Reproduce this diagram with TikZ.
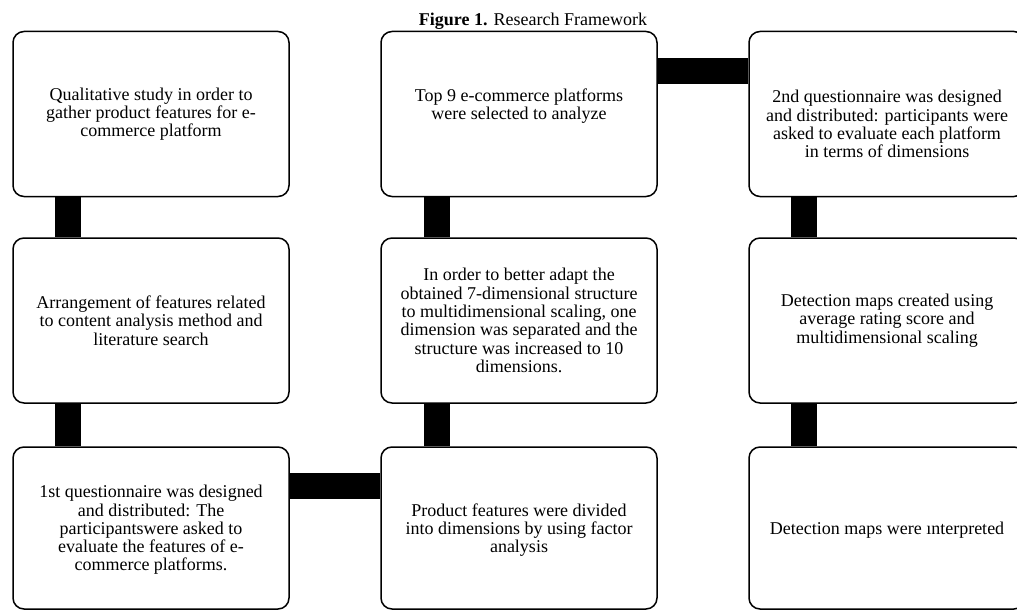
\documentclass[tikz,border=0pt]{standalone}
\usepackage{fontspec}
\setmainfont{Liberation Serif}
\begin{document}
\begin{tikzpicture}[x=1pt,y=-1pt,
  box/.style={draw, line width=1.5pt, rounded corners=11pt, minimum width=276pt, minimum height=165pt, inner sep=0pt},
  txt/.style={align=center, font=\fontsize{18}{18.3}\selectfont},
  bar/.style={line width=26pt}]
\useasboundingbox (0,0) rectangle (1017,610);
\node [anchor=base, font=\fontsize{18}{20}\selectfont] (title) at (533,26) {\textbf{Figure 1.} Research Framework};
% boxes
\node [box] (qual) at (151,114) {};
\node [box] (top) at (519,114) {};
\node [box] (second) at (887,114) {};
\node [box] (arrange) at (151,320.5) {};
\node [box] (adapt) at (519,320.5) {};
\node [box] (maps) at (887,320.5) {};
\node [box, minimum height=162pt] (first) at (151,528) {};
\node [box, minimum height=162pt] (divide) at (519,528) {};
\node [box, minimum height=162pt] (interp) at (887,528) {};
% texts
\node [txt] (qualtext) at (qual) {Qualitative study in order to\\gather product features for e-\\commerce platform};
\node [txt] (toptext) at ([yshift=8pt]top.center) {Top 9 e-commerce platforms\\were selected to analyze};
\node [txt] (secondtext) at ([yshift=-10pt]second.center) {2nd questionnaire was designed\\and distributed: participants were\\asked to evaluate each platform\\in terms of dimensions};
\node [txt] (arrangetext) at (arrange) {Arrangement of features related\\to content analysis method and\\literature search};
\node [txt] (adapttext) at (adapt) {In order to better adapt the\\obtained 7-dimensional structure\\to multidimensional scaling, one\\dimension was separated and the\\structure was increased to 10\\dimensions.};
\node [txt] (mapstext) at (maps) {Detection maps created using\\average rating score and\\multidimensional scaling};
\node [txt] (firsttext) at ([yshift=-2pt]first.center) {1st questionnaire was designed\\and distributed: The\\participantswere asked to\\evaluate the features of e-\\commerce platforms.};
\node [txt] (dividetext) at ([yshift=-2pt]divide.center) {Product features were divided\\into dimensions by using factor\\analysis};
\node [txt] (interptext) at ([yshift=-2pt]interp.center) {Detection maps were ınterpreted};
% connecting bars
\draw [bar] ([xshift=56pt]qual.south west) -- ([xshift=56pt]arrange.north west);
\draw [bar] ([xshift=56pt]arrange.south west) -- ([xshift=56pt]first.north west);
\draw [bar] ([yshift=-39.5pt]first.north east) -- ([yshift=-39.5pt]divide.north west);
\draw [bar] ([xshift=57pt]divide.north west) -- ([xshift=57pt]adapt.south west);
\draw [bar] ([xshift=57pt]adapt.north west) -- ([xshift=57pt]top.south west);
\draw [bar] ([yshift=-40pt]top.north east) -- ([yshift=-40pt]second.north west);
\draw [bar] ([xshift=56pt]second.south west) -- ([xshift=56pt]maps.north west);
\draw [bar] ([xshift=56pt]maps.south west) -- ([xshift=56pt]interp.north west);
\end{tikzpicture}
\end{document}
